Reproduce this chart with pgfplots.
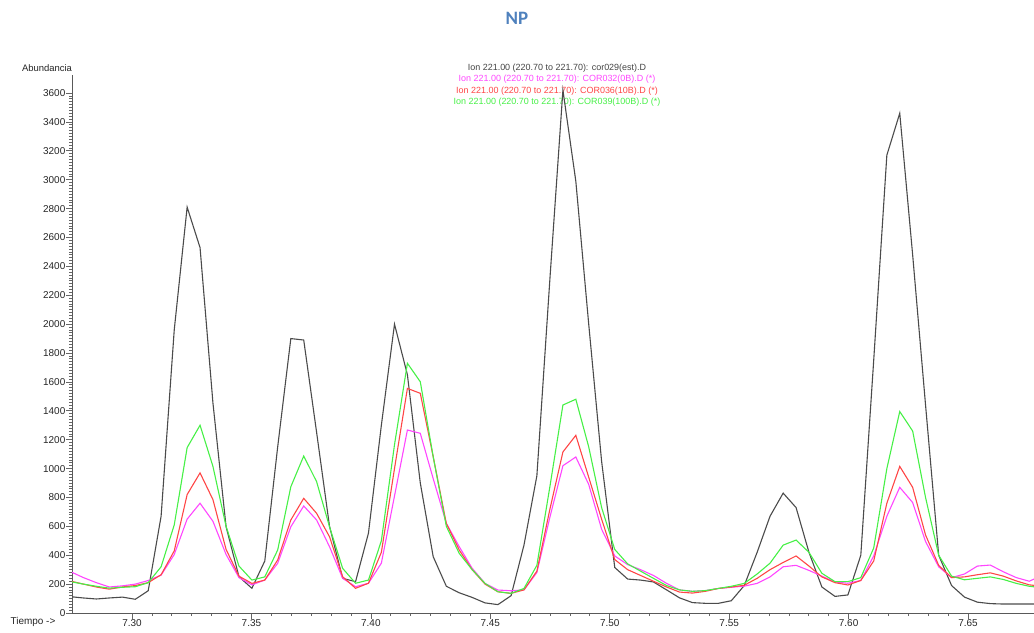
\documentclass[border=0pt]{standalone}
\usepackage{fontspec}
\setmainfont{Liberation Sans}
\newfontfamily\titlefont{Carlito}
\usepackage{pgfplots}
\usepackage{pgfplotstable}
\pgfplotsset{compat=1.18}
\definecolor{cK}{RGB}{75,75,75}
\definecolor{cM}{RGB}{255,70,255}
\definecolor{cR}{RGB}{255,70,70}
\definecolor{cG}{RGB}{70,240,70}
\definecolor{cT}{RGB}{79,129,189}

\pgfplotstableread{
x K M R G
7.2743 113 286 221 217
7.2797 104 245 200 200
7.2851 97 210 180 185
7.2905 104 180 165 172
7.2960 110 188 180 178
7.3014 95 200 190 182
7.3068 154 225 210 210
7.3122 670 262 265 320
7.3177 1960 405 430 610
7.3231 2810 650 820 1145
7.3285 2530 760 970 1300
7.3339 1454 635 785 1015
7.3394 597 405 440 600
7.3448 251 245 255 325
7.3502 171 195 205 228
7.3556 360 228 228 250
7.3610 1150 344 367 436
7.3665 1900 597 644 874
7.3719 1890 741 794 1087
7.3773 1250 644 690 909
7.3827 600 459 528 597
7.3882 240 240 251 309
7.3936 217 182 171 206
7.3990 553 206 206 228
7.4044 1300 345 420 500
7.4099 2000 810 1000 1165
7.4153 1650 1267 1555 1729
7.4207 900 1244 1521 1601
7.4261 390 930 1082 1082
7.4316 185 621 620 600
7.4370 140 459 436 413
7.4424 108 310 300 300
7.4478 70 205 200 205
7.4532 58 159 147 147
7.4587 120 154 136 136
7.4641 470 160 160 170
7.4695 950 280 290 330
7.4749 2300 660 715 870
7.4804 3620 1020 1115 1440
7.4858 2990 1080 1230 1480
7.4912 2000 890 940 1150
7.4966 1050 580 650 730
7.5021 315 395 370 440
7.5075 235 335 300 340
7.5129 228 300 260 290
7.5183 215 260 220 240
7.5238 160 205 180 190
7.5292 105 160 145 160
7.5346 72 150 138 150
7.5400 67 155 150 155
7.5455 67 170 170 170
7.5509 85 178 180 185
7.5563 190 186 192 205
7.5617 420 205 240 270
7.5671 670 250 300 345
7.5726 830 320 350 470
7.5780 730 330 395 505
7.5834 420 295 325 420
7.5888 180 255 250 275
7.5943 115 215 210 217
7.5997 125 206 194 217
7.6051 400 225 225 245
7.6105 1750 395 360 450
7.6160 3170 670 760 1000
7.6214 3460 870 1015 1395
7.6268 2480 765 870 1260
7.6322 1440 495 540 800
7.6377 400 320 330 400
7.6431 190 245 245 255
7.6485 110 270 250 230
7.6539 75 325 265 240
7.6593 65 332 278 250
7.6648 62 285 255 232
7.6702 62 245 222 205
7.6756 62 220 195 185
7.6810 62 260 185 175
}\data

\begin{document}
\begin{tikzpicture}
\useasboundingbox (-72bp,-20bp) rectangle (962bp,613bp);
\node[font=\titlefont\bfseries\fontsize{19}{20}\selectfont, text=cT] at (445bp,595bp) {NP};
\node[font=\fontsize{9}{10}\selectfont, text=cK!90!black] at (485bp,545bp) {Ion 221.00 (220.70 to 221.70): cor029(est).D};
\node[font=\fontsize{9}{10}\selectfont, text=cM] at (485bp,533.5bp) {Ion 221.00 (220.70 to 221.70): COR032(0B).D (*)};
\node[font=\fontsize{9}{10}\selectfont, text=cR] at (485bp,522bp) {Ion 221.00 (220.70 to 221.70): COR036(10B).D (*)};
\node[font=\fontsize{9}{10}\selectfont, text=cG] at (485bp,510.5bp) {Ion 221.00 (220.70 to 221.70): COR039(100B).D (*)};
\node[font=\fontsize{9.5}{10}\selectfont, text=black!85] at (-25bp,545bp) {Abundancia};
\node[font=\fontsize{10}{11}\selectfont, text=black!85] at (-39bp,-9bp) {Tiempo ->};
\begin{axis}[
  scale only axis, width=962bp, height=538bp,
  xmin=7.2749, xmax=7.6776, ymin=0, ymax=3725,
  axis x line=bottom, axis y line=left,
  axis line style={-, black!65, line width=0.9bp},
  xtick={7.30,7.35,7.40,7.45,7.50,7.55,7.60,7.65},
  xticklabels={7.30,7.35,7.40,7.45,7.50,7.55,7.60,7.65},
  minor x tick num=5,
  ytick={0,200,400,600,800,1000,1200,1400,1600,1800,2000,2200,2400,2600,2800,3000,3200,3400,3600},
  minor y tick num=9,
  tick align=outside,
  major tick length=5.5bp, minor tick length=3bp,
  tick style={black!60, line width=0.7bp},
  ticklabel style={font=\fontsize{10}{11}\selectfont, text=black!85},
  xticklabel style={inner sep=1bp},
  yticklabel style={inner sep=1bp},
  /pgf/number format/assume math mode=true,
  /pgf/number format/1000 sep={},
  clip=true,
]
\addplot[cK, line width=1.1bp] table[x=x, y=K] {\data};
\addplot[cM, line width=1.1bp] table[x=x, y=M] {\data};
\addplot[cR, line width=1.1bp] table[x=x, y=R] {\data};
\addplot[cG, line width=1.1bp] table[x=x, y=G] {\data};
\end{axis}
\end{tikzpicture}
\end{document}
